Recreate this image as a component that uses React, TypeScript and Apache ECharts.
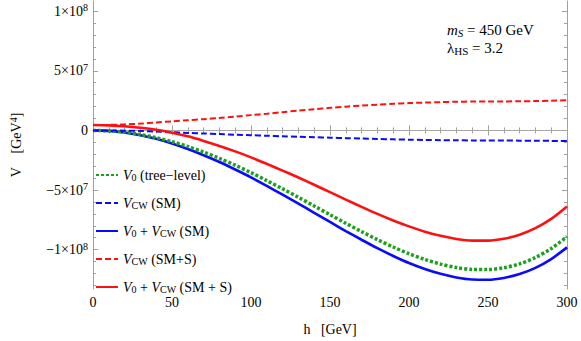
import React, { useEffect, useRef } from "react";
import * as echarts from "echarts";

// h values [GeV]
const hValues = [0, 10, 20, 30, 40, 50, 60, 70, 80, 90, 100, 110, 120, 130, 140, 150, 160, 170, 180, 190, 200, 210, 220, 230, 240, 250, 260, 270, 280, 290, 300];
// Potentials in units of 10^6 GeV^4
const v0Tree = [0, -0.4, -1.5, -3.5, -6.1, -9.5, -13.5, -18.2, -23.4, -29.2, -35.4, -42.1, -49.0, -56.1, -63.4, -70.7, -77.9, -84.9, -91.6, -97.8, -103.4, -108.2, -112.1, -115.0, -116.6, -116.7, -115.2, -111.9, -106.6, -99.1, -89.1];
const vcwSM = [0, -0.05, -0.2, -0.5, -1.0, -1.5, -2.1, -2.6, -3.1, -3.6, -4.0, -4.5, -4.9, -5.3, -5.7, -6.1, -6.5, -6.8, -7.2, -7.5, -7.8, -8.0, -8.2, -8.3, -8.4, -8.5, -8.5, -8.6, -8.7, -8.8, -9.0];
const totalSM = [0, -0.45, -1.7, -4.0, -7.1, -11.0, -15.6, -20.8, -26.5, -32.8, -39.4, -46.6, -53.9, -61.4, -69.1, -76.8, -84.4, -91.7, -98.8, -105.3, -111.2, -116.2, -120.3, -123.3, -125.0, -125.2, -123.7, -120.5, -115.3, -107.9, -98.1];
const vcwSMS = [4.5, 4.6, 5.0, 5.7, 6.6, 7.6, 8.5, 9.4, 10.4, 11.6, 12.8, 14.0, 15.3, 16.6, 17.8, 18.9, 19.9, 20.8, 21.6, 22.3, 22.9, 23.3, 23.7, 24.0, 24.2, 24.3, 24.3, 24.4, 24.6, 24.9, 25.3];
const totalSMS = [4.5, 4.2, 3.5, 2.2, 0.5, -1.9, -5.0, -8.8, -13.0, -17.6, -22.6, -28.1, -33.7, -39.5, -45.6, -51.8, -58.0, -64.1, -70.0, -75.5, -80.5, -84.9, -88.4, -91.0, -92.4, -92.4, -90.9, -87.5, -82.0, -74.2, -63.8];

const xTicks = [0, 50, 100, 150, 200, 250, 300];
const yMajorTicks = [-100, -50, 0, 50, 100];
const yMinorTicks = [-130, -120, -110, -90, -80, -70, -60, -40, -30, -20, -10, 10, 20, 30, 40, 60, 70, 80, 90];
const yTickLabels: Record<string, string> = {
  "-100": "{n|\u22121\u00d710}{sup|8}",
  "-50": "{n|\u22125\u00d710}{sup|7}",
  "0": "{n|0}",
  "50": "{n|5\u00d710}{sup|7}",
  "100": "{n|1\u00d710}{sup|8}",
};

const seriesNames = ["V0 (tree-level)", "VCW (SM)", "V0 + VCW (SM)", "VCW (SM+S)", "V0 + VCW (SM + S)"];
const legendLabels: Record<string, string> = {
  "V0 (tree-level)": "{i|V}{sub|0}{t| (tree\u2212level)}",
  "VCW (SM)": "{i|V}{sub|CW}{t| (SM)}",
  "V0 + VCW (SM)": "{i|V}{sub|0}{t| + }{i|V}{sub|CW}{t| (SM)}",
  "VCW (SM+S)": "{i|V}{sub|CW}{t| (SM+S)}",
  "V0 + VCW (SM + S)": "{i|V}{sub|0}{t| + }{i|V}{sub|CW}{t| (SM + S)}",
};

const FONT = "Liberation Serif";
const GRAY = "#a0a0a0";
const GREEN = "#1ea01e";
const BLUE = "#0a0aff";
const RED = "#ff1010";

function pairs(ys: number[]) {
  return hValues.map((h, i) => [h, ys[i]]);
}

export default function App() {
  const ref = useRef<HTMLDivElement>(null);
  useEffect(() => {
    if (!ref.current) return;
    const chart = echarts.init(ref.current, null, { renderer: "svg" });
    const yMin = -133;
    const yMax = 108.5;
    const baseX = {
      type: "value",
      min: 0,
      max: 300,
      interval: 50,
      splitLine: { show: false },
      minorSplitLine: { show: false },
      axisLine: { show: true, lineStyle: { color: GRAY, width: 1 } },
      axisTick: { show: true, inside: true, length: 5, lineStyle: { color: GRAY } },
      minorTick: { show: true, splitNumber: 5, length: 3, lineStyle: { color: GRAY } },
    };
    const baseY = {
      type: "value",
      min: yMin,
      max: yMax,
      splitLine: { show: false },
    };
    const option: any = {
      animation: false,
      textStyle: { fontFamily: FONT },
      grid: { left: 83, right: 14, top: 1, bottom: 43 },
      xAxis: [
        {
          ...baseX,
          position: "bottom",
          axisLabel: {
            show: true,
            color: "#000",
            fontFamily: FONT,
            fontSize: 14,
            margin: 6,
            customValues: xTicks,
          },
          name: "h   [GeV]",
          nameLocation: "middle",
          nameGap: 33,
          nameTextStyle: { color: "#000", fontFamily: FONT, fontSize: 14 },
        },
        {
          ...baseX,
          position: "top",
          axisLabel: { show: false },
        },
      ],
      yAxis: [
        {
          ...baseY,
          position: "left",
          axisLine: { show: true, lineStyle: { color: GRAY, width: 1 } },
          axisTick: { show: true, inside: true, length: 5, lineStyle: { color: GRAY }, customValues: yMajorTicks },
          axisLabel: {
            show: true,
            margin: 5,
            customValues: yMajorTicks,
            formatter: (v: number) => yTickLabels[String(v)] ?? "",
            rich: {
              n: { fontFamily: FONT, fontSize: 14, color: "#000" },
              sup: { fontFamily: FONT, fontSize: 10, color: "#000", verticalAlign: "top", padding: [0, 0, 7, 0] },
            },
          },
          name: "{t|V    [GeV}{sup|4}{t|]}",
          nameLocation: "middle",
          nameRotate: 90,
          nameGap: 68,
          nameTextStyle: {
            rich: {
              t: { fontFamily: FONT, fontSize: 14, color: "#000" },
              sup: { fontFamily: FONT, fontSize: 10, color: "#000", padding: [0, 0, 7, 0] },
            },
          },
        },
        {
          ...baseY,
          position: "left",
          axisLine: { show: false },
          axisTick: { show: true, inside: true, length: 3, lineStyle: { color: GRAY }, customValues: yMinorTicks },
          axisLabel: { show: false },
        },
        {
          ...baseY,
          position: "right",
          axisLine: { show: true, lineStyle: { color: GRAY, width: 1 } },
          axisTick: { show: true, inside: true, length: 5, lineStyle: { color: GRAY }, customValues: yMajorTicks },
          axisLabel: { show: false },
        },
        {
          ...baseY,
          position: "right",
          axisLine: { show: false },
          axisTick: { show: true, inside: true, length: 3, lineStyle: { color: GRAY }, customValues: yMinorTicks },
          axisLabel: { show: false },
        },
      ],
      legend: {
        orient: "vertical",
        left: 90,
        top: 163,
        itemWidth: 22,
        itemHeight: 14,
        itemGap: 13.5,
        data: seriesNames,
        itemStyle: { opacity: 0 },
        formatter: (name: string) => legendLabels[name] ?? name,
        textStyle: {
          color: "#000",
          fontFamily: FONT,
          fontSize: 14,
          rich: {
            i: { fontFamily: FONT, fontSize: 14, fontStyle: "italic", color: "#000" },
            t: { fontFamily: FONT, fontSize: 14, color: "#000" },
            sub: { fontFamily: FONT, fontSize: 10, color: "#000", padding: [5, 0, 0, 0] },
          },
        },
      },
      graphic: [
        {
          type: "text",
          left: 447,
          top: 22,
          style: {
            text: "{i|m}{isub|S}{t| = 450 GeV}",
            rich: {
              i: { fontFamily: FONT, fontSize: 15, fontStyle: "italic", fill: "#000" },
              isub: { fontFamily: FONT, fontSize: 11, fontStyle: "italic", fill: "#000", padding: [7, 0, 0, 0] },
              t: { fontFamily: FONT, fontSize: 15, fill: "#000" },
            },
          },
        },
        {
          type: "text",
          left: 447,
          top: 40,
          style: {
            text: "{t|\u03bb}{sub|HS}{t| = 3.2}",
            rich: {
              t: { fontFamily: FONT, fontSize: 15, fill: "#000" },
              sub: { fontFamily: FONT, fontSize: 11, fill: "#000", padding: [7, 0, 0, 0] },
            },
          },
        },
      ],
      series: [
        {
          name: "V0 + VCW (SM)",
          type: "line",
          data: pairs(totalSM),
          showSymbol: false,
          symbol: "none",
          smooth: 0.3,
          lineStyle: { color: BLUE, width: 2.6, type: "solid" },
          itemStyle: { color: BLUE },
          z: 2,
          markLine: {
            silent: true,
            symbol: "none",
            label: { show: false },
            lineStyle: { color: "#a8a8a8", width: 1, type: "solid" },
            data: [{ yAxis: 0 }],
            z: 1,
          },
        },
        {
          name: "V0 (tree-level)",
          type: "line",
          data: pairs(v0Tree),
          showSymbol: false,
          symbol: "none",
          smooth: 0.3,
          lineStyle: { color: GREEN, width: 3.5, type: [3, 2] },
          itemStyle: { color: GREEN },
          z: 3,
        },
        {
          name: "VCW (SM)",
          type: "line",
          data: pairs(vcwSM),
          showSymbol: false,
          symbol: "none",
          smooth: 0.3,
          lineStyle: { color: BLUE, width: 2, type: [6, 3] },
          itemStyle: { color: BLUE },
          z: 3,
        },
        {
          name: "VCW (SM+S)",
          type: "line",
          data: pairs(vcwSMS),
          showSymbol: false,
          symbol: "none",
          smooth: 0.3,
          lineStyle: { color: RED, width: 2, type: [6, 3] },
          itemStyle: { color: RED },
          z: 3,
        },
        {
          name: "V0 + VCW (SM + S)",
          type: "line",
          data: pairs(totalSMS),
          showSymbol: false,
          symbol: "none",
          smooth: 0.3,
          lineStyle: { color: RED, width: 2.6, type: "solid" },
          itemStyle: { color: RED },
          z: 3,
        },
      ],
    };
    chart.setOption(option);
    return () => chart.dispose();
  }, []);
  return <div ref={ref} style={{ width: 581, height: 341, position: "absolute", left: 0, top: 0 }} />;
}
